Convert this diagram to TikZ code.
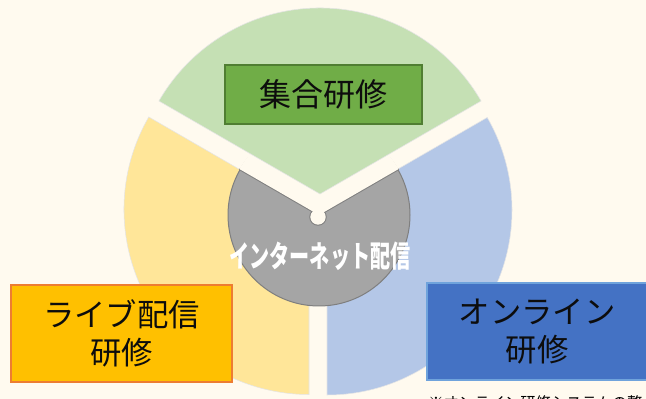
\documentclass[tikz,border=0pt]{standalone}
\usepackage{fontspec}
\newfontfamily\jp{Noto Sans CJK JP}
\definecolor{bg}{HTML}{FFFAEF}
\definecolor{secgreen}{HTML}{C5E0B4}
\definecolor{secyellow}{HTML}{FFE699}
\definecolor{secblue}{HTML}{B4C7E7}
\definecolor{hubgray}{HTML}{A5A5A5}
\definecolor{hubline}{HTML}{7F7F7F}
\definecolor{boxgreen}{HTML}{70AD47}
\definecolor{boxgreenb}{HTML}{507E32}
\definecolor{boxyellow}{HTML}{FFC000}
\definecolor{boxyellowb}{HTML}{ED7D31}
\definecolor{boxblue}{HTML}{4472C4}
\definecolor{boxblueb}{HTML}{6FA3DC}
\tikzset{
  sector/.style={draw=white!80!gray, line width=0.4pt},
  labelbox/.style={inner sep=0pt, outer sep=0pt, line width=1.1pt, align=center, text=black!95, font=\jp\fontsize{23.5}{28}\selectfont},
}
\begin{document}
\begin{tikzpicture}[x=0.75pt,y=0.75pt]
\fill[bg] (0,0) rectangle (646,399);
\useasboundingbox (0,0) rectangle (646,399);
\clip (0,0) rectangle (646,399);
% lower sectors
\path[sector, fill=secyellow] (309,189.5) -- ++(150:185) arc[start angle=150, end angle=270, radius=185] -- cycle;
\path[sector, fill=secblue] (327,189) -- ++(270:185) arc[start angle=270, end angle=390, radius=185] -- cycle;
% hub
\fill[hubgray] (319,184) circle[radius=91];
\draw[hubline, line width=0.75pt] (319,184) circle[radius=91];
\begin{scope}
  \clip (319,184) circle[radius=92];
  \draw[hubline, line width=1.5pt] (215.1,244) -- (319,184) -- (422.9,244);
  \draw[hubline, line width=1.5pt] (318,182) circle[radius=7.7];
  \fill[bg] (215.1,244) -- (319,184) -- (422.9,244) -- (422.9,330) -- (215.1,330) -- cycle;
  \fill[bg] (318,182) circle[radius=7.7];
\end{scope}
% top sector
\path[sector, fill=secgreen] (320,205) -- ++(30:186) arc[start angle=30, end angle=150, radius=186] -- cycle;
% labels
\node[labelbox, fill=boxgreen, draw=boxgreenb, minimum width=147.75pt, minimum height=44.25pt, font=\jp\fontsize{24}{28}\selectfont] (shugo) at (323.5,304.5) {集合研修};
\node[labelbox, fill=boxyellow, draw=boxyellowb, minimum width=165.75pt, minimum height=72.75pt] (live) at (121.5,65.5) {ライブ配信\\研修};
\node[labelbox, fill=boxblue, draw=boxblueb, minimum width=165pt, minimum height=72.75pt] (online) at (537,67.5) {オンライン\\研修};
\node[text=white, inner sep=0pt, font=\jp\bfseries\fontsize{22.5}{24}\selectfont] (net) at (320,143) {\scalebox{0.67}[1]{インターネット配信}};
\node[anchor=base west, inner sep=0pt, text=black, font=\jp\fontsize{11.5}{12}\selectfont] (note) at (428,-9.6) {※オンライン研修システムの整};
\end{tikzpicture}
\end{document}
